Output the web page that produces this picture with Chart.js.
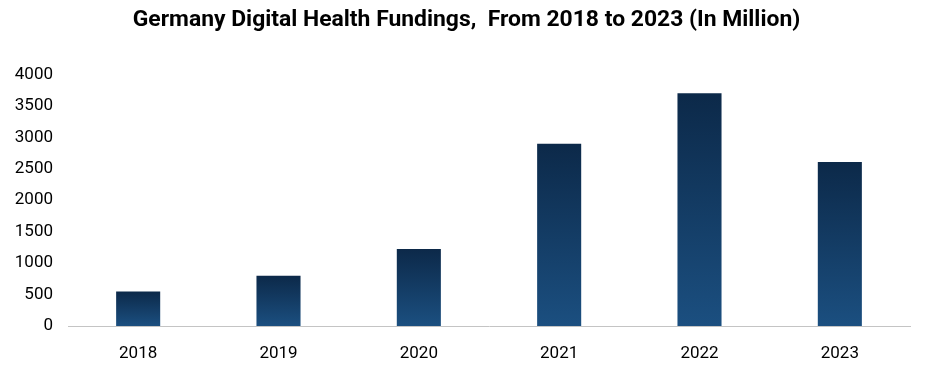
<!DOCTYPE html>
<html>
<head>
<meta charset="utf-8">
<script src="https://cdn.jsdelivr.net/npm/chart.js@4"></script>
<style>
    html, body { margin: 0; padding: 0; background: #fff; }
    #wrap { width: 933px; height: 375px; }
</style>
</head>
<body>
<div id="wrap"><canvas id="fundingChart"></canvas></div>
<script>
const years = ['2018', '2019', '2020', '2021', '2022', '2023'];
const fundings = [550, 800, 1225, 2900, 3700, 2610];
const yTicks = [0, 500, 1000, 1500, 2000, 2500, 3000, 3500, 4000];

const fontFamily = 'Roboto, "Open Sans", "DejaVu Sans", sans-serif';

// each bar gets its own dark-top to lighter-bottom gradient
const barFill = (context) => {
    const chart = context.chart;
    if (!chart.chartArea || context.type !== 'data') return '#143e69';
    const y = chart.scales.y;
    const top = y.getPixelForValue(context.raw);
    const bottom = y.getPixelForValue(0);
    const gradient = chart.ctx.createLinearGradient(0, top, 0, bottom);
    gradient.addColorStop(0, '#0c2949');
    gradient.addColorStop(1, '#1b4f80');
    return gradient;
};

new Chart(document.getElementById('fundingChart'), {
    type: 'bar',
    data: {
        labels: years,
        datasets: [
            {
                label: 'Fundings',
                data: fundings,
                backgroundColor: barFill,
                borderWidth: 0,
                barPercentage: 0.314,
                categoryPercentage: 1,
            },
        ],
    },
    options: {
        responsive: true,
        maintainAspectRatio: false,
        animation: false,
        layout: {
            padding: 0,
        },
        scales: {
            x: {
                grid: { display: false },
                border: { display: true, color: '#c4c4c4', width: 1, dash: [1, 1] },
                afterFit: (scale) => {
                    scale.height = 49;
                },
                ticks: {
                    padding: 10,
                    color: '#000',
                    font: { family: fontFamily, size: 17 },
                },
            },
            y: {
                min: 0,
                max: 4000,
                afterBuildTicks: (scale) => {
                    scale.ticks = yTicks.map((v) => ({ value: v }));
                },
                afterFit: (scale) => {
                    scale.width = 68;
                },
                grid: { display: false },
                border: { display: false },
                ticks: {
                    padding: 7,
                    color: '#000',
                    font: { family: fontFamily, size: 17 },
                    callback: (value) => String(value),
                },
            },
            // empty right-hand spacer so the title stays centred on the page
            spacer: {
                type: 'linear',
                position: 'right',
                grid: { display: false },
                border: { display: false },
                ticks: { display: false },
                afterFit: (scale) => {
                    scale.width = 23;
                },
            },
        },
        plugins: {
            legend: { display: false },
            tooltip: { enabled: false },
            title: {
                display: true,
                text: 'Germany Digital Health Fundings,  From 2018 to 2023 (In Million)',
                color: '#000',
                font: { family: fontFamily, size: 22.9, weight: 'bold' },
                padding: { top: 7, bottom: 40 },
            },
        },
    },
});
</script>
</body>
</html>
